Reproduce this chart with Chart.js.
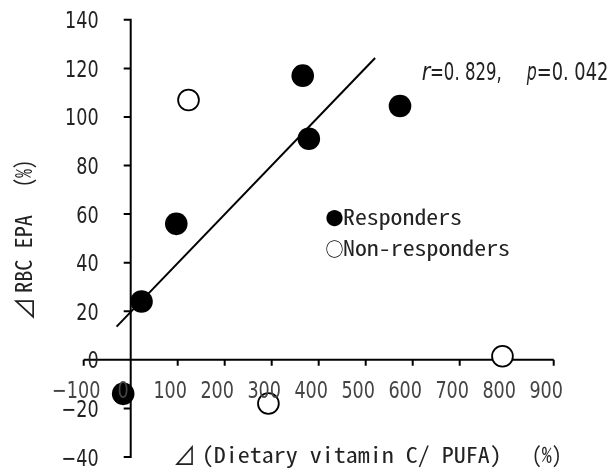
<!DOCTYPE html>
<html><head><meta charset="utf-8">
<script src="https://cdn.jsdelivr.net/npm/chart.js@4/dist/chart.umd.min.js"></script>
<style>html,body{margin:0;padding:0;background:#fff;}canvas{display:block;}</style>
</head><body>
<canvas id="c" width="613" height="472"></canvas>
<script>
// ---- data ----
const xTickValues = [-100, 0, 100, 200, 300, 400, 500, 600, 700, 800, 900];
const yTickValues = [-40, -20, 0, 20, 40, 60, 80, 100, 120, 140];
const respondersX = [-16, 23, 97, 366, 379, 573];
const respondersY = [-14, 24, 56, 117, 91, 104.5];
const nonRespondersX = [123, 293, 791];
const nonRespondersY = [107, -18, 1.5];
const trendX = [-30, 520];
const trendY = [13.7, 124.3];
const legendLabels = ['●Responders', '○Non-responders'];
const statText = ['r', '=0. 829,', 'p', '=0. 042'];
const xTitleParts = ['⊿', '(Dietary vitamin C/ PUFA)', '(%)'];
const yTitleParts = ['⊿', 'RBC EPA', '(%)'];

const toPts = (xs, ys) => xs.map((x, i) => ({x, y: ys[i]}));

const NARROW = "'Liberation Sans Narrow','Arial Narrow','DejaVu Sans Condensed',sans-serif";
const MONO = "'Noto Sans Mono CJK JP','DejaVu Sans Mono',monospace";
const CJK = "'Noto Sans CJK JP','DejaVu Sans',sans-serif";

function drawFit(ctx, text, x, y, o) {
  ctx.save();
  ctx.font = (o.italic ? 'italic ' : '') + o.size + 'px ' + o.family;
  ctx.fillStyle = o.color || '#000';
  ctx.textBaseline = 'alphabetic';
  ctx.textAlign = 'left';
  const w = ctx.measureText(text).width;
  const sx = o.width ? o.width / w : (o.sx || 1);
  ctx.translate(x, y);
  if (o.rotate) ctx.rotate(o.rotate);
  ctx.scale(sx, 1);
  ctx.fillText(text, 0, 0);
  ctx.restore();
  return w * sx;
}
function drawCentered(ctx, text, cx, y, size, family) {
  ctx.save();
  ctx.font = size + 'px ' + family;
  ctx.fillStyle = '#000';
  ctx.textAlign = 'center';
  ctx.textBaseline = 'middle';
  ctx.fillText(text, cx, y);
  ctx.restore();
}

const axesPlugin = {
  id: 'axesAtZero',
  beforeDatasetsDraw(chart) {
    const ctx = chart.ctx, xs = chart.scales.x, ys = chart.scales.y;
    const x0 = xs.getPixelForValue(0), y0 = ys.getPixelForValue(0);
    ctx.save();
    ctx.strokeStyle = '#000';
    ctx.lineWidth = 2;
    ctx.beginPath();
    ctx.moveTo(x0, ys.getPixelForValue(yTickValues[yTickValues.length - 1]) - 1);
    ctx.lineTo(x0, ys.getPixelForValue(yTickValues[0]) + 1);
    ctx.moveTo(xs.getPixelForValue(xTickValues[0]), y0);
    ctx.lineTo(xs.getPixelForValue(xTickValues[xTickValues.length - 1]), y0);
    yTickValues.forEach(v => {
      const p = ys.getPixelForValue(v);
      ctx.moveTo(x0 - 7, p); ctx.lineTo(x0, p);
    });
    xTickValues.forEach(v => {
      const p = xs.getPixelForValue(v);
      ctx.moveTo(p, y0); ctx.lineTo(p, y0 + 6);
    });
    ctx.stroke();
    ctx.restore();
  },
  afterDatasetsDraw(chart) {
    const ctx = chart.ctx, xs = chart.scales.x, ys = chart.scales.y;
    const x0 = xs.getPixelForValue(0), y0 = ys.getPixelForValue(0);
    ctx.save();
    ctx.font = '23px ' + NARROW;
    const sx = 11.2 / ctx.measureText('0').width;
    ctx.restore();
    const lab = v => (v < 0 ? '\u2212' + Math.abs(v) : String(v));
    const widthOf = t => { ctx.save(); ctx.font = '23px ' + NARROW; const w = ctx.measureText(t).width * sx; ctx.restore(); return w; };
    // y tick labels
    yTickValues.forEach(v => {
      const t = lab(v);
      drawFit(ctx, t, x0 - 32 - widthOf(t), ys.getPixelForValue(v) + 8.5, {size: 23, family: NARROW, sx, color: '#222'});
    });
    // x tick labels
    xTickValues.forEach(v => {
      const t = lab(v);
      drawFit(ctx, t, xs.getPixelForValue(v) - 7.5 - widthOf(t) / 2, y0 + 38.5, {size: 23, family: NARROW, sx, color: '#444'});
    });
    // x title
    drawFit(ctx, xTitleParts[0], 173, 465, {size: 25, family: CJK, width: 23, color: '#222'});
    drawFit(ctx, xTitleParts[1], 201.7, 463, {size: 22, family: MONO, width: 300, color: '#222'});
    drawFit(ctx, xTitleParts[2], 531.7, 463, {size: 22, family: MONO, width: 30, color: '#222'});
    // y title (rotated)
    const R = -Math.PI / 2;
    drawFit(ctx, yTitleParts[0], 34, 321, {size: 25, family: CJK, width: 24, rotate: R, color: '#222'});
    drawFit(ctx, yTitleParts[1], 32, 293, {size: 23, family: MONO, width: 78, rotate: R, color: '#222'});
    drawFit(ctx, yTitleParts[2], 32, 187, {size: 23, family: MONO, width: 27, rotate: R, color: '#222'});
    // legend text
    drawCentered(ctx, legendLabels[0].charAt(0), 334.5, 218, 18, CJK);
    drawFit(ctx, legendLabels[0].slice(1), 343, 225, {size: 21, family: MONO, width: 119, color: '#222'});
    drawCentered(ctx, legendLabels[1].charAt(0), 334.5, 249, 18, CJK);
    drawFit(ctx, legendLabels[1].slice(1), 343, 256, {size: 21, family: MONO, width: 167, color: '#222'});
    // statistics text
    drawFit(ctx, statText[0], 421.7, 80, {size: 24, family: NARROW, italic: true, width: 8.5, color: '#222'});
    drawFit(ctx, statText[1], 430, 80, {size: 24, family: NARROW, width: 71.7, color: '#222'});
    drawFit(ctx, statText[2], 526.7, 80, {size: 24, family: NARROW, italic: true, width: 10, color: '#222'});
    drawFit(ctx, statText[3], 536.7, 80, {size: 24, family: NARROW, width: 71.6, color: '#222'});
  }
};

new Chart(document.getElementById('c'), {
  type: 'scatter',
  data: {
    datasets: [
      {label: 'Responders', data: toPts(respondersX, respondersY), pointRadius: 11.3, pointHoverRadius: 11.3,
       backgroundColor: '#000', borderColor: '#000', borderWidth: 0, clip: false},
      {label: 'Non-responders', data: toPts(nonRespondersX, nonRespondersY), pointRadius: 10.4, pointHoverRadius: 10.4,
       backgroundColor: '#fff', borderColor: '#000', borderWidth: 1.8, clip: false},
      {label: 'Trend', data: toPts(trendX, trendY), showLine: true, pointRadius: 0, borderColor: '#000',
       borderWidth: 2, backgroundColor: '#000', clip: false}
    ]
  },
  options: {
    responsive: false,
    animation: false,
    devicePixelRatio: 1,
    layout: {padding: {left: 83.7, right: 59.3, top: 19.8, bottom: 15}},
    scales: {
      x: {type: 'linear', min: -100, max: 900, display: false},
      y: {type: 'linear', min: -40, max: 140, display: false}
    },
    plugins: {legend: {display: false}, tooltip: {enabled: false}}
  },
  plugins: [axesPlugin]
});
</script>
</body></html>
